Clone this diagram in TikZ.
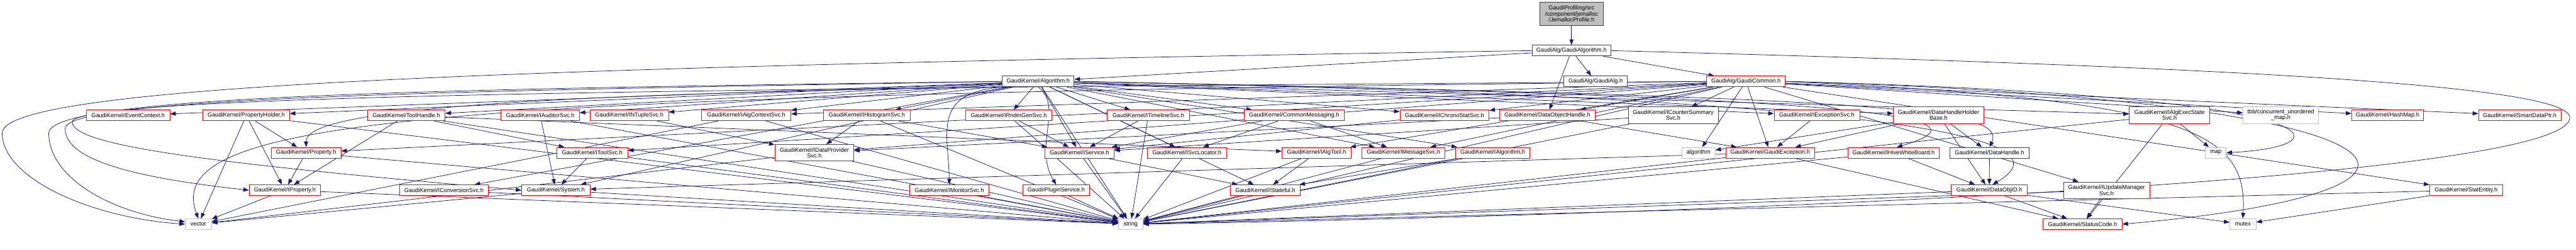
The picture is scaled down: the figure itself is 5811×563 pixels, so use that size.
\documentclass[tikz,border=0pt]{standalone}
\usepackage{fontspec}
\setmainfont{Liberation Sans}
\usetikzlibrary{arrows.meta}
\pgfdeclarelayer{bg}
\pgfsetlayers{bg,main}
\definecolor{edgeblue}{HTML}{191970}
\definecolor{hdrgray}{HTML}{BFBFBF}
\definecolor{hdrred}{HTML}{FF0000}
\definecolor{hdrdark}{HTML}{404040}
\tikzset{
 hdr/.style={draw,fill=white,line width=.9pt,inner sep=0pt,minimum height=18pt,align=center,font=\fontsize{9.8}{10}\selectfont},
 redhdr/.style={hdr,draw=hdrred},
 sysinc/.style={hdr,draw=hdrgray},
 plainhdr/.style={hdr,draw=hdrdark},
 twoline/.style={minimum height=27.75pt},
 bw/.style={minimum width=#1*.75pt},
 dep/.style={draw=edgeblue,line width=.8pt,-{Triangle[length=9.5pt,width=7pt]}}
}
\begin{document}
\begin{tikzpicture}[x=.75pt,y=-.75pt]
\useasboundingbox (0,0) rectangle (5811,563);
\node[plainhdr,fill=hdrgray,bw=144,minimum height=39pt] (jp) at (3545,31) {GaudiProfiling/src\\/component/jemalloc\\/JemallocProfile.h};
\node[plainhdr,bw=178] (galgo) at (3545,114) {GaudiAlg/GaudiAlgorithm.h};
\node[plainhdr,bw=143] (galg) at (3599.5,183.5) {GaudiAlg/GaudiAlg.h};
\node[redhdr,bw=177] (gcom) at (3938.5,183.5) {GaudiAlg/GaudiCommon.h};
\node[plainhdr,bw=162] (alg) at (2342,183.5) {GaudiKernel/Algorithm.h};
\node[redhdr,bw=188] (evctx) at (289,260) {GaudiKernel/EventContext.h};
\node[redhdr,bw=195] (propholder) at (555.5,260) {GaudiKernel/PropertyHolder.h};
\node[redhdr,bw=175] (toolhandle) at (916.5,260) {GaudiKernel/ToolHandle.h};
\node[redhdr,bw=177] (iauditor) at (1218.5,260) {GaudiKernel/IAuditorSvc.h};
\node[redhdr,bw=177] (intuple) at (1419.5,260) {GaudiKernel/INTupleSvc.h};
\node[redhdr,bw=201] (ialgctx) at (1683.5,260) {GaudiKernel/IAlgContextSvc.h};
\node[redhdr,bw=195] (ihisto) at (1955.5,260) {GaudiKernel/IHistogramSvc.h};
\node[redhdr,bw=195] (irndm) at (2275.5,260) {GaudiKernel/IRndmGenSvc.h};
\node[redhdr,bw=185] (itimeline) at (2590.5,260) {GaudiKernel/ITimelineSvc.h};
\node[redhdr,bw=225] (commsg) at (2919.5,260) {GaudiKernel/CommonMessaging.h};
\node[redhdr,bw=201] (ichrono) at (3258.5,260) {GaudiKernel/IChronoStatSvc.h};
\node[redhdr,bw=215] (dohandle) at (3490.5,260) {GaudiKernel/DataObjectHandle.h};
\node[plainhdr,twoline,bw=203] (icounter) at (3774.5,259.5) {GaudiKernel/ICounterSummary\\Svc.h};
\node[redhdr,bw=193] (iexc) at (4098.5,260) {GaudiKernel/IExceptionSvc.h};
\node[redhdr,twoline,bw=204] (dhhb) at (4373,259.5) {GaudiKernel/DataHandleHolder\\Base.h};
\node[redhdr,twoline,bw=182] (iexecstate) at (4894,259.5) {GaudiKernel/IAlgExecState\\Svc.h};
\node[sysinc,twoline,bw=170] (tbbmap) at (5145,259.5) {tbb/concurrent\_unordered\\\_map.h};
\node[redhdr,bw=162] (hashmap) at (5386,260) {GaudiKernel/HashMap.h};
\node[redhdr,bw=186] (smartptr) at (5684,260) {GaudiKernel/SmartDataPtr.h};
\node[redhdr,bw=157] (property) at (690.5,344) {GaudiKernel/Property.h};
\node[redhdr,bw=160] (itoolsvc) at (1336,344) {GaudiKernel/IToolSvc.h};
\node[redhdr,twoline,bw=178] (idataprov) at (1837,344) {GaudiKernel/IDataProvider\\Svc.h};
\node[redhdr,bw=156] (iservice) at (2435,344) {GaudiKernel/IService.h};
\node[redhdr,bw=179] (isvcloc) at (2677.5,344) {GaudiKernel/ISvcLocator.h};
\node[redhdr,bw=156] (ialgtool) at (2970,344) {GaudiKernel/IAlgTool.h};
\node[redhdr,bw=188] (imsgsvc) at (3166,344) {GaudiKernel/IMessageSvc.h};
\node[redhdr,bw=167] (ialgorithm) at (3367.5,344) {GaudiKernel/IAlgorithm.h};
\node[sysinc,bw=75] (algstd) at (3831.5,344) {algorithm};
\node[redhdr,bw=200] (gexc) at (3993,344) {GaudiKernel/GaudiException.h};
\node[redhdr,bw=207] (ihive) at (4271.5,344) {GaudiKernel/IHiveWhiteBoard.h};
\node[plainhdr,bw=178] (datahandle) at (4488,344) {GaudiKernel/DataHandle.h};
\node[sysinc,bw=47] (stdmap) at (4998.5,344) {map};
\node[redhdr,bw=161] (iproperty) at (642.5,428.5) {GaudiKernel/IProperty.h};
\node[redhdr,bw=201] (iconv) at (1001.5,428.5) {GaudiKernel/IConversionSvc.h};
\node[redhdr,bw=154] (system) at (1254,428.5) {GaudiKernel/System.h};
\node[redhdr,bw=179] (imonitor) at (2141.5,428.5) {GaudiKernel/IMonitorSvc.h};
\node[redhdr,bw=151] (plugin) at (2382.5,428.5) {Gaudi/PluginService.h};
\node[redhdr,bw=157] (istateful) at (2854.5,428.5) {GaudiKernel/IStateful.h};
\node[redhdr,bw=171] (dataobjid) at (4487.5,428.5) {GaudiKernel/DataObjID.h};
\node[redhdr,twoline,bw=194] (iupdate) at (4752,428.5) {GaudiKernel/IUpdateManager\\Svc.h};
\node[redhdr,bw=164] (statentity) at (5563,428.5) {GaudiKernel/StatEntity.h};
\node[sysinc,bw=59] (vector) at (447.5,505) {vector};
\node[sysinc,bw=55] (string) at (2550.5,505) {string};
\node[redhdr,bw=178] (statuscode) at (4698,505) {GaudiKernel/StatusCode.h};
\node[sysinc,bw=59] (mutex) at (5059.5,505) {mutex};
\coordinate (bendA) at (5,300);
\coordinate (bendB) at (110,300);
\coordinate (bendC) at (147,290);
\coordinate (bendD) at (163,275);
\coordinate (bendR) at (5797,265);
\begin{pgfonlayer}{bg}
\draw[dep] (jp) -- (galgo);
\foreach \t in {galg,gcom,alg,dohandle}{\draw[dep] (galgo) -- (\t);}
\draw[dep] (galgo.west) .. controls (1200,150) and (5,190) .. (bendA) .. controls (5,400) and (200,490) .. (vector.west);
\draw[dep] (galgo.east) .. controls (5000,150) and (5797,190) .. (bendR) .. controls (5797,400) and (4000,480) .. (string.east);
\foreach \t in {evctx,propholder,toolhandle,iauditor,intuple,ialgctx,ihisto,irndm,itimeline,commsg,ichrono,iexc,dhhb,iexecstate,iservice,isvcloc,imsgsvc,ialgorithm,istateful,iconv,system,string}{\draw[dep] (alg) -- (\t);}
\draw[dep] (alg.south west) .. controls (1000,215) and (690,260) .. (property.north);
\draw[dep] (alg.south west) .. controls (2100,210) and (2140,300) .. (imonitor.north);
\draw[dep] (alg.south) .. controls (2400,240) and (2330,330) .. (plugin.north);
\draw[dep] (alg.east) .. controls (4000,215) and (4560,250) .. (ihive.60);
\draw[dep] (alg.east) .. controls (4200,220) and (4530,240) .. (datahandle.north);
\draw[dep] (alg.east) .. controls (4500,225) and (4640,330) .. (dataobjid.60);
\draw[dep] (alg.west) .. controls (1000,200) and (110,215) .. (bendB) .. controls (110,400) and (250,480) .. (vector.170);
\draw[dep] (alg.west) .. controls (1000,205) and (147,220) .. (bendC) .. controls (147,360) and (300,400) .. (iproperty.west);
\foreach \t in {ichrono,dohandle,icounter,idataprov,itoolsvc,property,ialgctx,imsgsvc,ialgtool,iupdate,hashmap,smartptr,tbbmap,statentity,gexc,algstd,string}{\draw[dep] (gcom) -- (\t);}
\draw[dep] (gcom.west) .. controls (1000,215) and (360,260) .. (vector.north);
\draw[dep] (gcom.west) .. controls (1500,200) and (163,215) .. (bendD) .. controls (163,330) and (500,370) .. (system.west);
\draw[dep] (gcom.east) .. controls (5300,215) and (5300,330) .. (stdmap.east);
\draw[dep] (gcom.east) .. controls (4950,225) and (5070,300) .. (mutex.north);
\draw[dep] (gcom.east) .. controls (5500,225) and (5650,430) .. (statuscode.east);
\foreach \s/\t in {propholder/property,propholder/iproperty,propholder/vector,propholder/string,property/iproperty,property/string,iproperty/vector,iproperty/string,toolhandle/itoolsvc,toolhandle/iproperty,toolhandle/ialgtool,toolhandle/string,iauditor/system,iauditor/string,intuple/idataprov,ialgctx/vector,ialgctx/string,ihisto/idataprov,ihisto/iservice,ihisto/string,irndm/iservice,irndm/string,itimeline/iservice,itimeline/string,commsg/iservice,commsg/isvcloc,commsg/imsgsvc,ichrono/iservice,dohandle/idataprov,dohandle/gexc,icounter/iservice,icounter/string,iexc/gexc,dhhb/datahandle,dhhb/dataobjid,dhhb/gexc,dhhb/algstd,iexecstate/stdmap,iexecstate/string,iexecstate/statuscode,itoolsvc/system,itoolsvc/string,idataprov/vector,idataprov/string,iservice/istateful,iservice/string,isvcloc/string,ialgtool/istateful,ialgtool/string,imsgsvc/string,ialgorithm/istateful,ialgorithm/string,gexc/system,gexc/statuscode,gexc/string,ihive/dataobjid,ihive/string,datahandle/dataobjid,system/vector,system/string,iconv/string,imonitor/string,plugin/string,istateful/string,dataobjid/statuscode,dataobjid/mutex,dataobjid/string,iupdate/statuscode,iupdate/string,statentity/mutex,statentity/string}{\draw[dep] (\s) -- (\t);}
\end{pgfonlayer}
\end{tikzpicture}
\end{document}
